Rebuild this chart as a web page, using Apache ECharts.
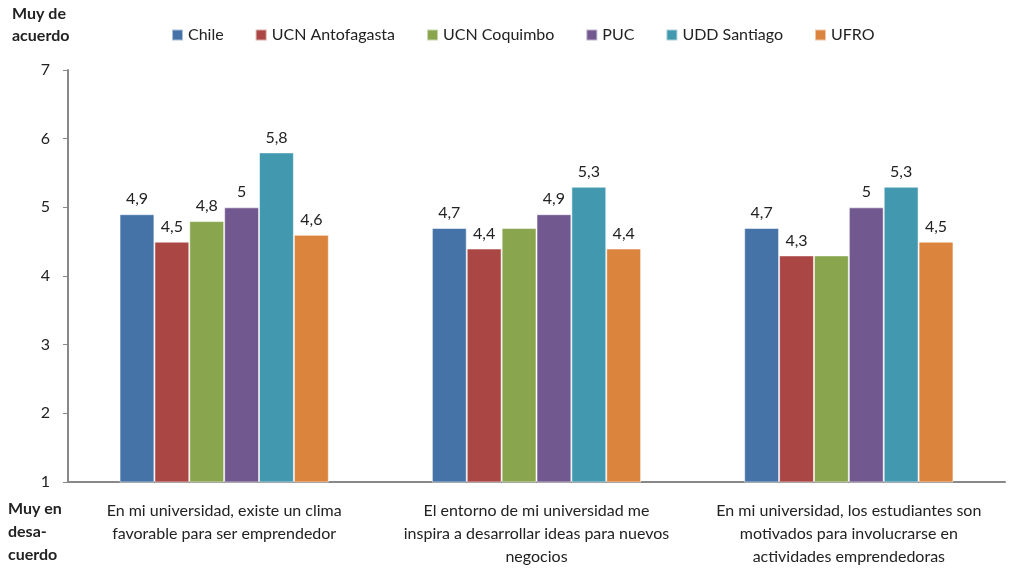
<!DOCTYPE html>
<html>
<head>
<meta charset="utf-8">
<script src="https://cdn.jsdelivr.net/npm/echarts@6/dist/echarts.min.js"></script>
<style>
html,body{margin:0;padding:0;background:#fff;}
#chart{width:1017px;height:569px;}
</style>
</head>
<body>
<div id="chart"></div>
<script>
const categories = [
  "En mi universidad, existe un clima\nfavorable para ser emprendedor",
  "El entorno de mi universidad me\ninspira a desarrollar ideas para nuevos\nnegocios",
  "En mi universidad, los estudiantes son\nmotivados para involucrarse en\nactividades emprendedoras"
];
const seriesNames = ["Chile", "UCN Antofagasta", "UCN Coquimbo", "PUC", "UDD Santiago", "UFRO"];
const chile = [4.9, 4.7, 4.7];
const ucnAntofagasta = [4.5, 4.4, 4.3];
const ucnCoquimbo = [4.8, 4.7, 4.3];
const puc = [5, 4.9, 5];
const uddSantiago = [5.8, 5.3, 5.3];
const ufro = [4.6, 4.4, 4.5];
const yTicks = [1, 2, 3, 4, 5, 6, 7];
// labels not shown in the reference: [seriesIndex, categoryIndex]
const hiddenLabels = [[2, 1], [2, 2]];

const values = [chile, ucnAntofagasta, ucnCoquimbo, puc, uddSantiago, ufro];
const colors = ["#4572A7", "#AA4643", "#89A54E", "#71588F", "#4198AF", "#DB843D"];
const FONT = "Lato, 'Open Sans', sans-serif";

const chart = echarts.init(document.getElementById('chart'));
const series = seriesNames.map((name, si) => ({
  name: name,
  type: 'bar',
  barGap: 0,
  barCategoryGap: '33%',
  itemStyle: { color: colors[si], borderColor: 'rgba(255,255,255,0.55)', borderWidth: 1 },
  label: {
    show: true,
    position: 'top',
    distance: 7,
    color: '#222',
    fontFamily: FONT,
    fontSize: 16,
    formatter: p => String(p.value).replace('.', ',')
  },
  data: values[si].map((v, ci) => {
    const hide = hiddenLabels.some(h => h[0] === si && h[1] === ci);
    return hide ? { value: v, label: { show: false } } : v;
  })
}));

chart.setOption({
  animation: false,
  color: colors,
  textStyle: { fontFamily: FONT },
  legend: {
    left: 166,
    top: 22,
    itemWidth: 11,
    itemHeight: 11,
    itemGap: 31,
    icon: 'rect',
    textStyle: { fontFamily: FONT, fontSize: 16, color: '#222' },
    data: seriesNames
  },
  grid: { left: 68, right: 12, top: 70, bottom: 87 },
  xAxis: {
    type: 'category',
    data: categories,
    axisLine: { lineStyle: { color: '#888', width: 2 } },
    axisTick: { show: false },
    axisLabel: {
      interval: 0,
      margin: 17,
      color: '#222',
      fontFamily: FONT,
      fontSize: 16,
      lineHeight: 23,
      align: 'center'
    }
  },
  yAxis: {
    type: 'value',
    min: 1,
    max: 7,
    interval: 1,
    axisLine: { show: true, lineStyle: { color: '#888', width: 2 } },
    axisTick: { show: true, length: 5, lineStyle: { color: '#888' } },
    splitLine: { show: false },
    axisLabel: {
      color: '#222',
      fontFamily: FONT,
      fontSize: 16,
      margin: 18,
      formatter: v => yTicks.includes(v) ? String(v) : ''
    }
  },
  graphic: [
    {
      type: 'text', left: 12, top: 3,
      style: { text: 'Muy de\nacuerdo', font: "bold 16px " + FONT, lineHeight: 22, fill: '#222' }
    },
    {
      type: 'text', left: 8, top: 497,
      style: { text: 'Muy en\ndesa-\ncuerdo', font: "bold 16px " + FONT, lineHeight: 23, fill: '#222' }
    }
  ],
  series: series
});
</script>
</body>
</html>
